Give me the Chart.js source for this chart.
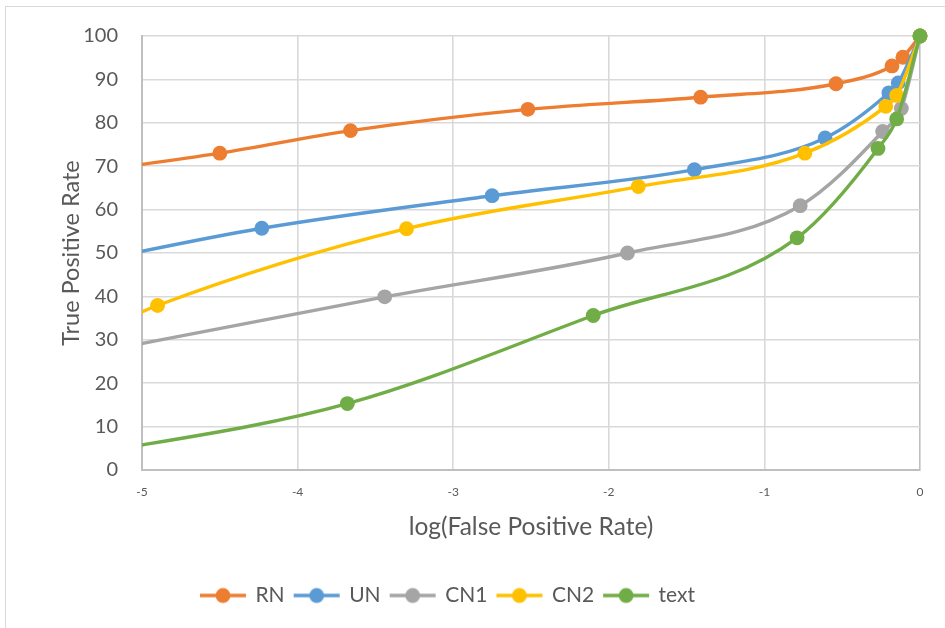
<!DOCTYPE html>
<html>
<head>
<meta charset="utf-8">
<script src="https://cdn.jsdelivr.net/npm/chart.js@4.4.1/dist/chart.umd.min.js"></script>
<style>
  html, body { margin: 0; padding: 0; background: #ffffff; overflow: hidden; }
  #frame { position: absolute; left: 5px; top: 6px; width: 1000px; height: 1000px;
           border: 1px solid #d9d9d9; box-sizing: border-box; }
  #wrap { position: absolute; left: 0; top: 0; width: 945px; height: 628px; }
</style>
</head>
<body>
<div id="frame"></div>
<div id="wrap"><canvas id="roc" width="945" height="628"></canvas></div>
<script>
// ROC curves: log10 of the false positive rate against true positive rate (%)
const seriesNames = ['RN', 'UN', 'CN1', 'CN2', 'text'];

const xRN   = [-5.6, -4.50, -3.66, -2.52, -1.41, -0.54, -0.18, -0.11, 0];
const yRN   = [67.5, 73.0, 78.2, 83.1, 85.9, 89.0, 93.1, 95.1, 100];

const xUN   = [-5.6, -4.23, -2.75, -1.45, -0.61, -0.20, -0.14, 0];
const yUN   = [46.0, 55.7, 63.2, 69.2, 76.5, 86.9, 89.2, 100];

const xCN1  = [-5.6, -3.44, -1.88, -0.77, -0.24, -0.12, 0];
const yCN1  = [25.0, 39.9, 50.0, 60.9, 78.0, 83.3, 100];

const xCN2  = [-5.4, -4.90, -3.30, -1.81, -0.74, -0.22, -0.15, 0];
const yCN2  = [30.0, 37.9, 55.6, 65.3, 73.0, 83.8, 86.3, 100];

const xText = [-5.6, -3.68, -2.10, -0.79, -0.27, -0.15, 0];
const yText = [2.0, 15.3, 35.6, 53.5, 74.1, 80.9, 100];

const xTickValues = [-5, -4, -3, -2, -1, 0];
const yTickValues = [0, 10, 20, 30, 40, 50, 60, 70, 80, 90, 100];

const colors = ['#ED7D31', '#5B9BD5', '#A5A5A5', '#FFC000', '#70AD47'];
const xs = [xRN, xUN, xCN1, xCN2, xText];
const ys = [yRN, yUN, yCN1, yCN2, yText];

const FONT = 'Lato, "Open Sans", sans-serif';
const TEXT_COLOR = '#595959';

// small line-with-dot icons for the legend
function legendIcon(color) {
  const c = document.createElement('canvas');
  c.width = 48; c.height = 18;
  const g = c.getContext('2d');
  g.strokeStyle = color; g.lineWidth = 3.4; g.lineCap = 'butt';
  g.beginPath(); g.moveTo(1, 9); g.lineTo(47, 9); g.stroke();
  g.fillStyle = color;
  g.beginPath(); g.arc(24, 9, 7.4, 0, Math.PI * 2); g.fill();
  return c;
}
const icons = colors.map(legendIcon);

const datasets = seriesNames.map((name, i) => ({
  label: name,
  data: xs[i].map((x, k) => ({ x: x, y: ys[i][k] })),
  borderColor: colors[i],
  backgroundColor: colors[i],
  borderWidth: 3.4,
  pointRadius: 7.4,
  pointHoverRadius: 7.4,
  pointBorderWidth: 0,
  cubicInterpolationMode: 'monotone',
  fill: false,
  order: seriesNames.length - i,
  clip: { left: 0, top: false, right: false, bottom: 0 }
}));

// nudge the legend row sideways
const legendShift = {
  id: 'legendShift',
  afterLayout(chart) {
    const dx = chart.options.plugins.legendShift.dx || 0;
    if (chart.legend) { chart.legend.left += dx; chart.legend.right += dx; }
  }
};

new Chart(document.getElementById('roc'), {
  type: 'line',
  data: { datasets: datasets },
  plugins: [legendShift],
  options: {
    responsive: false,
    animation: false,
    events: [],
    layout: { padding: { left: 0, top: 35, right: 25, bottom: 12 } },
    scales: {
      x: {
        type: 'linear',
        min: -5, max: 0,
        afterBuildTicks(scale) { scale.ticks = xTickValues.map(v => ({ value: v })); },
        afterFit(scale) { scale.height = 105; },
        ticks: { font: { family: FONT, size: 12 }, color: TEXT_COLOR, padding: 15 },
        grid: {
          color: ctx => (ctx.tick && ctx.tick.value === 0 ? '#bfbfbf' : '#d9d9d9'),
          lineWidth: 1.6, drawTicks: false
        },
        border: { display: true, color: '#bfbfbf', width: 2 },
        title: {
          display: true, text: 'log(False Positive Rate)',
          font: { family: FONT, size: 24.5 }, color: TEXT_COLOR,
          padding: { top: 0, bottom: 33.3 }
        }
      },
      y: {
        type: 'linear',
        min: 0, max: 100,
        afterBuildTicks(scale) { scale.ticks = yTickValues.map(v => ({ value: v })); },
        afterFit(scale) { scale.width = 142; },
        ticks: { font: { family: FONT, size: 20 }, color: TEXT_COLOR, padding: 24 },
        grid: { color: '#d9d9d9', lineWidth: 1.6, drawTicks: false },
        border: { display: true, color: '#bfbfbf', width: 2 },
        title: {
          display: true, text: 'True Positive Rate',
          font: { family: FONT, size: 23.5 }, color: TEXT_COLOR,
          padding: { top: 57, bottom: 0 }
        }
      }
    },
    plugins: {
      legendShift: { dx: -12 },
      tooltip: { enabled: false },
      legend: {
        display: true,
        position: 'bottom',
        labels: {
          font: { family: FONT, size: 21 },
          color: TEXT_COLOR,
          usePointStyle: true,
          pointStyleWidth: 44,
          padding: 10,
          sort: (a, b) => a.datasetIndex - b.datasetIndex,
          generateLabels(chart) {
            const items = Chart.defaults.plugins.legend.labels.generateLabels(chart);
            items.forEach(it => { it.pointStyle = icons[it.datasetIndex]; });
            return items;
          }
        }
      }
    }
  }
});
</script>
</body>
</html>
